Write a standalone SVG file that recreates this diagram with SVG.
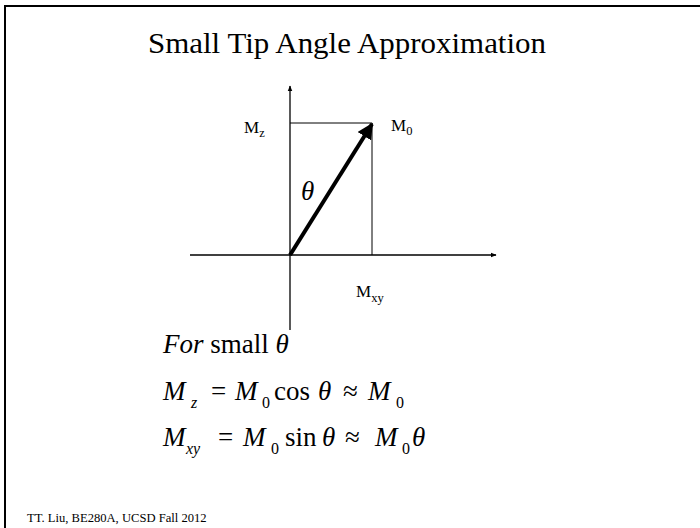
<svg xmlns="http://www.w3.org/2000/svg" width="700" height="528" viewBox="0 0 700 528">
<defs>
<style>
text{font-family:"Liberation Serif","Times New Roman",serif;fill:#000}
.it{font-style:italic}
.lab{font-size:17px}
.sub{font-size:12.5px}
.eq{font-size:27px}
.esub{font-size:16px}
.ax{stroke:#000;stroke-width:1.3;fill:none}
.thin{stroke:#000;stroke-width:1;fill:none}
</style>
<marker id="ah" viewBox="0 0 10 10" refX="9" refY="5" markerWidth="6" markerHeight="6" orient="auto" markerUnits="userSpaceOnUse"><path d="M0,1 L10,5 L0,9 z" fill="#000"/></marker>
<marker id="ahb" viewBox="0 0 10 10" refX="9" refY="5" markerWidth="4" markerHeight="4" orient="auto"><path d="M0,0 L10,5 L0,10 z" fill="#000"/></marker>
</defs>
<rect width="700" height="528" fill="#fff"/>
<rect x="5" y="6" width="720" height="560" fill="none" stroke="#000" stroke-width="2"/>
<text id="title" x="347" y="53" font-size="30" text-anchor="middle" textLength="398" lengthAdjust="spacingAndGlyphs">Small Tip Angle Approximation</text>
<g id="connectors">
<line class="ax" x1="290" y1="330" x2="290" y2="86" marker-end="url(#ah)"/>
<line class="ax" x1="190" y1="255" x2="496" y2="255" marker-end="url(#ah)"/>
<polyline class="thin" points="290,123 372,123 372,255"/>
<line x1="290" y1="255" x2="372" y2="124" stroke="#000" stroke-width="4" marker-end="url(#ahb)"/>
</g>
<g id="Mz"><text class="lab" x="244" y="133">M<tspan class="sub" dy="4">z</tspan></text></g>
<g id="M0"><text class="lab" x="391" y="131">M<tspan class="sub" dy="4">0</tspan></text></g>
<g id="Mxy"><text class="lab" x="356" y="297">M<tspan class="sub" dy="5">xy</tspan></text></g>
<g id="theta"><text class="it" x="301" y="200" font-size="27">θ</text></g>
<g id="eqs" transform="translate(53,0)">
<text class="eq" x="110" y="353"><tspan class="it">For</tspan> small <tspan class="it">θ</tspan></text>
<text class="eq" y="400"><tspan class="it" x="110">M</tspan><tspan class="it esub" x="138" dy="8">z</tspan><tspan x="158" dy="-8">=</tspan><tspan class="it" x="182">M</tspan><tspan class="esub" x="209" dy="8">0</tspan><tspan x="221" dy="-8">cos</tspan><tspan class="it" x="265">θ</tspan><tspan x="290">≈</tspan><tspan class="it" x="315">M</tspan><tspan class="esub" x="343" dy="8">0</tspan></text>
<text class="eq" y="446"><tspan class="it" x="110">M</tspan><tspan class="it esub" x="133" dy="8">xy</tspan><tspan x="165" dy="-8">=</tspan><tspan class="it" x="190">M</tspan><tspan class="esub" x="218" dy="8">0</tspan><tspan x="232" dy="-8">sin</tspan><tspan class="it" x="269">θ</tspan><tspan x="292">≈</tspan><tspan class="it" x="322">M</tspan><tspan class="esub" x="349" dy="8">0</tspan><tspan class="it" x="359" dy="-8">θ</tspan></text>
</g>
<g id="footer"><text x="27" y="522" font-size="12.6">TT. Liu, BE280A, UCSD Fall 2012</text></g>
</svg>
